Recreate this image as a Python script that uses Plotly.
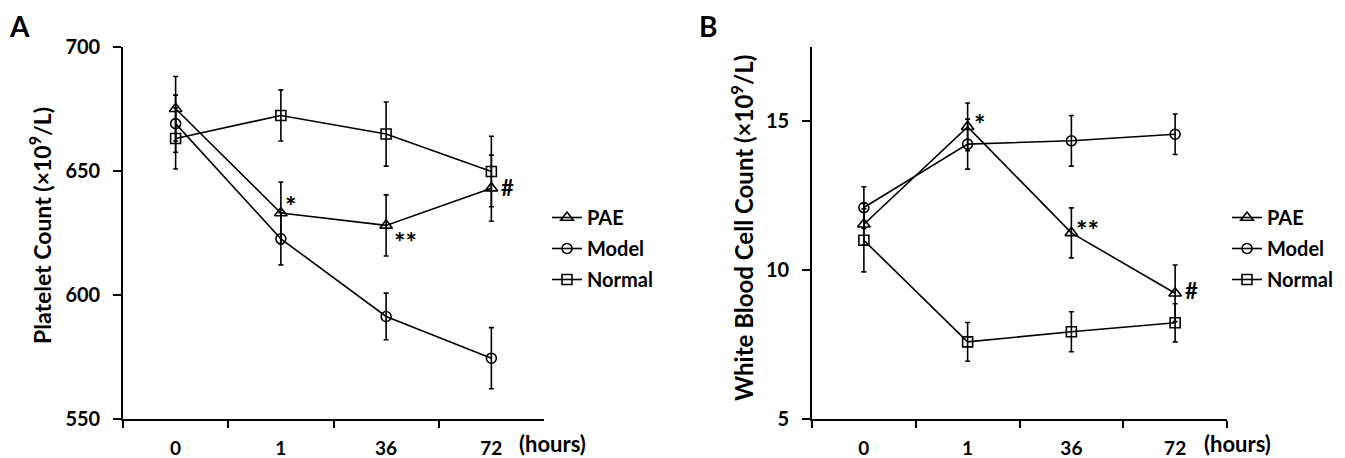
import plotly.graph_objects as go

times = ["0", "1", "36", "72"]
series_names = ["PAE", "Model", "Normal"]
symbols = ["triangle-up-open", "circle-open", "square-open"]
marker_sizes = [11, 10, 10]

# Panel A: Platelet count
plt_pae = [675, 633, 628, 643]
plt_pae_err = [13, 12.5, 12.3, 13.3]
plt_model = [669, 622.6, 591.3, 574.5]
plt_model_err = [11.5, 10.5, 9.4, 12.3]
plt_normal = [663, 672.3, 664.8, 649.7]
plt_normal_err = [12.3, 10.3, 12.9, 14.2]

# Panel B: White blood cell count
wbc_pae = [11.54, 14.81, 11.25, 9.22]
wbc_pae_err = [0.7, 0.8, 0.84, 0.95]
wbc_model = [12.10, 14.23, 14.34, 14.56]
wbc_model_err = [0.7, 0.84, 0.85, 0.68]
wbc_normal = [11.0, 7.59, 7.93, 8.23]
wbc_normal_err = [1.06, 0.65, 0.67, 0.64]

FONT = "Lato"
OFF = 8  # page body margin
W, H = 1345 - OFF, 458 - OFF

fig = go.Figure()

def add_panel(vals, errs, xaxis, yaxis, legend, grp):
    for name, sym, ms, v, e in zip(series_names, symbols, marker_sizes, vals, errs):
        fig.add_trace(go.Scatter(
            x=times, y=v, name="<b>" + name + "</b>", mode="lines+markers",
            xaxis=xaxis, yaxis=yaxis, legend=legend, legendgroup=grp + name,
            line=dict(color="black", width=1.6),
            marker=dict(symbol=sym, size=ms, color="black",
                        line=dict(color="black", width=1.6)),
            error_y=dict(type="data", array=e, color="black",
                         thickness=1.6, width=2.5),
        ))

add_panel([plt_pae, plt_model, plt_normal],
          [plt_pae_err, plt_model_err, plt_normal_err], "x", "y", "legend", "a")
add_panel([wbc_pae, wbc_model, wbc_normal],
          [wbc_pae_err, wbc_model_err, wbc_normal_err], "x2", "y2", "legend2", "b")

def px_x(p):
    return (p - OFF) / W

def px_y(p):
    return 1 - (p - OFF) / H

ydom = [px_y(419), px_y(46.7)]

tickfont = dict(family=FONT, size=20, color="black", weight=700)
xtickfont = dict(family=FONT, size=19, color="black", weight=700)
xcommon = dict(type="category", tickson="boundaries", ticks="outside",
               ticklen=7, tickwidth=1.6, tickcolor="black",
               showline=True, linecolor="black", linewidth=1.6,
               showgrid=False, zeroline=False, range=[-0.5, 3.5],
               automargin=False, tickfont=xtickfont, ticklabelstandoff=11,
               tickvals=times, ticktext=["<b>" + t + "</b>" for t in times])
ycommon = dict(ticks="outside", ticklen=8, tickwidth=1.6, tickcolor="black",
               showline=True, linecolor="black", linewidth=1.6,
               showgrid=False, zeroline=False, automargin=False,
               tickfont=tickfont, ticklabelstandoff=9)

legfont = dict(family=FONT, size=20, color="black", weight=700)
fig.update_layout(
    template="none",
    width=W, height=H,
    margin=dict(l=0, r=0, t=0, b=0, pad=0),
    plot_bgcolor="white", paper_bgcolor="white",
    showlegend=True,
    xaxis=dict(domain=[px_x(123), px_x(544)], anchor="y", **xcommon),
    yaxis=dict(domain=ydom, anchor="x", range=[550, 700],
               tickvals=[550, 600, 650, 700],
               ticktext=["<b>%d</b>" % v for v in [550, 600, 650, 700]], **ycommon),
    xaxis2=dict(domain=[px_x(812), px_x(1227)], anchor="y2", **xcommon),
    yaxis2=dict(domain=ydom, anchor="x2", range=[5, 17.5], tickvals=[5, 10, 15],
                ticktext=["<b>%d</b>" % v for v in [5, 10, 15]], **ycommon),
    legend=dict(x=px_x(547), y=px_y(198), xanchor="left", yanchor="top",
                font=legfont, itemwidth=30, bgcolor="rgba(0,0,0,0)",
                traceorder="grouped", tracegroupgap=2),
    legend2=dict(x=px_x(1227), y=px_y(198), xanchor="left", yanchor="top",
                 font=legfont, itemwidth=30, bgcolor="rgba(0,0,0,0)",
                 traceorder="grouped", tracegroupgap=2),
)

bold = dict(family=FONT, color="black", weight=700)
ctr = dict(xref="paper", yref="paper", showarrow=False, xanchor="center", yanchor="middle")
ann = []
ann.append(dict(text="<b>A</b>", x=px_x(19), y=px_y(26), font=dict(size=28, **bold), **ctr))
ann.append(dict(text="<b>B</b>", x=px_x(708), y=px_y(26), font=dict(size=28, **bold), **ctr))
ann.append(dict(text="<b>Platelet Count (×10<sup>9</sup>/L)</b>", x=px_x(40), y=px_y(226),
                textangle=-90, font=dict(size=23, **bold), **ctr))
ann.append(dict(text="<b>White Blood Cell Count (×10<sup>9</sup>/L)</b>", x=px_x(742), y=px_y(228),
                textangle=-90, font=dict(size=24, **bold), **ctr))
ann.append(dict(text="<b>(hours)</b>", x=px_x(552), y=px_y(443), font=dict(size=22, **bold), **ctr))
ann.append(dict(text="<b>(hours)</b>", x=px_x(1237), y=px_y(443), font=dict(size=22, **bold), **ctr))

marks = [("*", 1, plt_pae, "x", "y", 10, 7, 27),
         ("**", 2, plt_pae, "x", "y", 19, -16, 27),
         ("#", 3, plt_pae, "x", "y", 16, 1, 22),
         ("*", 1, wbc_pae, "x2", "y2", 12, 3, 27),
         ("**", 2, wbc_pae, "x2", "y2", 16, 3, 27),
         ("#", 3, wbc_pae, "x2", "y2", 16, 3, 22)]
for txt, i, series, xr, yr, dx, dy, fs in marks:
    ann.append(dict(text="<b>" + txt + "</b>", x=i, y=series[i], xref=xr, yref=yr,
                    showarrow=False, xanchor="center", yanchor="middle",
                    xshift=dx, yshift=dy, font=dict(size=fs, **bold)))
fig.update_layout(annotations=ann)

fig.write_html("out.html")
